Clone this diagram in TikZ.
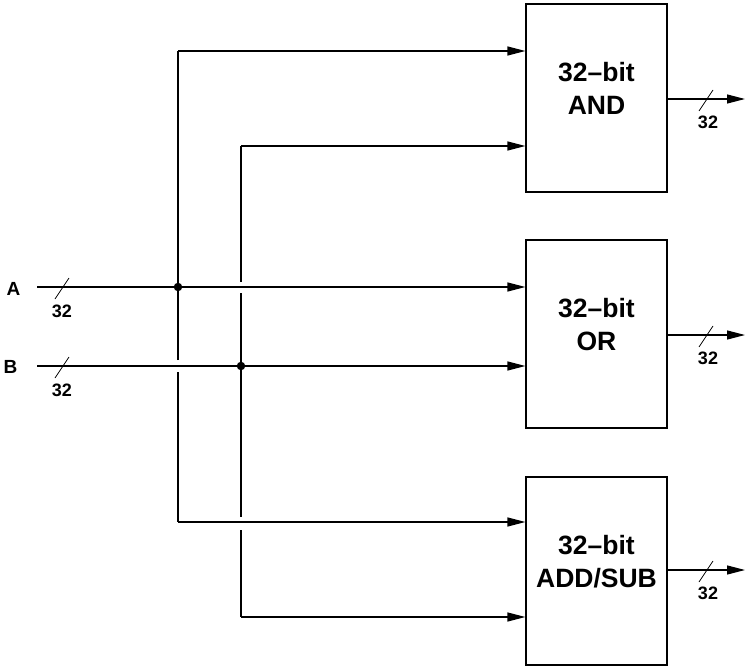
\documentclass[tikz,border=0pt]{standalone}
\usepackage{fontspec}
\setmainfont{Liberation Sans}
\usetikzlibrary{arrows.meta}
\begin{document}
\begin{tikzpicture}[x=1pt,y=-1pt,
  wire/.style={line width=1.2pt},
  arr/.style={wire,-{Triangle[length=18pt,width=9pt]}},
  slash/.style={line width=0.8pt},
  unit/.style={draw,line width=1.2pt,minimum width=141pt,minimum height=188pt,inner sep=0pt},
  unittext/.style={align=center,inner sep=0pt,font=\bfseries\fontsize{26.5}{33}\selectfont},
  buslbl/.style={font=\bfseries\fontsize{18}{20}\selectfont,inner sep=0pt},
  inlbl/.style={font=\bfseries\fontsize{19}{21}\selectfont,inner sep=0pt},
  dot/.style={circle,fill,inner sep=0pt,minimum size=8.5pt}]
\useasboundingbox (0,0) rectangle (750,669);
% boxes
\node[unit] (and) at (596.5,98) {};
\node[unit] (or)  at (596.5,334) {};
\node[unit] (add) at (596.5,571) {};
\node[unittext] (tand) at ([yshift=9.5pt]and.center) {32--bit\\AND};
\node[unittext] (tor)  at ([yshift=9.5pt]or.center) {32--bit\\OR};
\node[unittext] (tadd) at ([yshift=9.5pt]add.center) {32--bit\\ADD/SUB};
% inputs
\node[inlbl] (la) at (13.5,288.5) {A};
\node[inlbl] (lb) at (10.5,366.5) {B};
\coordinate (inA) at (37,287);
\coordinate (inB) at (37,366);
\node[dot] (jA) at (178,287) {};
\node[dot] (jB) at (241,366) {};
\draw[arr] (inA) -- (or.west |- inA);
\draw[arr] (inB) -- (or.west |- inB);
% bus slashes on inputs
\coordinate (sA) at (62,287);
\coordinate (sB) at (62,366);
\draw[slash] ([shift={(-7,12)}]sA) -- ([shift={(7,-9)}]sA);
\draw[slash] ([shift={(-7,12)}]sB) -- ([shift={(7,-9)}]sB);
\node[buslbl] (nA) at (62,311) {32};
\node[buslbl] (nB) at (62,390) {32};
% vertical A fork
\coordinate (a1) at (178,51);
\coordinate (a3) at (178,522);
\coordinate (ag1) at (178,360);
\coordinate (ag2) at (178,372);
\draw[wire] (ag1) -- (jA) -- (a1);
\draw[wire] (ag2) -- (a3);
\draw[arr] (a1) -- (and.west |- a1);
\draw[arr] (a3) -- (add.west |- a3);
% vertical B fork
\coordinate (b1) at (241,146);
\coordinate (b3) at (241,617);
\coordinate (bg1) at (241,282);
\coordinate (bg2) at (241,293);
\coordinate (bg3) at (241,517);
\coordinate (bg4) at (241,530);
\draw[wire] (b1) -- (bg1);
\draw[wire] (bg2) -- (jB) -- (bg3);
\draw[wire] (bg4) -- (b3);
\draw[arr] (b1) -- (and.west |- b1);
\draw[arr] (b3) -- (add.west |- b3);
% outputs
\foreach \b/\y in {and/99,or/335,add/570}{
  \coordinate (o\b) at (745,\y);
  \draw[arr] (\b.east |- o\b) -- (o\b);
  \coordinate (s\b) at (706,\y);
  \draw[slash] ([shift={(-7,12)}]s\b) -- ([shift={(7,-9)}]s\b);
  \node[buslbl] (n\b) at (708,\y+23.5) {32};
}
\end{tikzpicture}
\end{document}
